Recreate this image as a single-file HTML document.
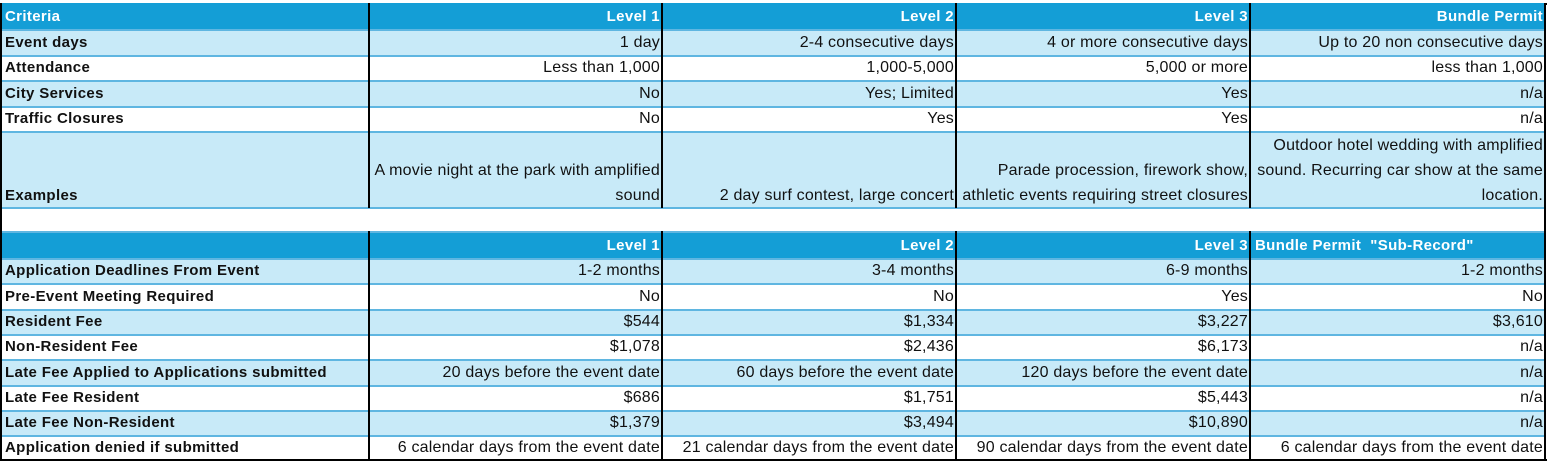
<!DOCTYPE html>
<html><head><meta charset="utf-8"><style>
html,body{margin:0;padding:0;background:#fff;width:1547px;height:462px;overflow:hidden}
body{position:relative;font-family:"Liberation Sans",Arial,sans-serif;font-size:16px;letter-spacing:0.2px;color:#111}
.r{position:absolute;left:2px;width:1543px;border-top:2px solid #5fb6e1;box-sizing:border-box}
.b{background:#c8eaf8}.w{background:#fff}.h{background:#149ed6;color:#fff;font-weight:bold}
.h .c{font-size:15px;letter-spacing:0.35px}
.c{position:absolute;bottom:0px;line-height:25px;white-space:nowrap}
.c0{left:3px;font-weight:bold;font-size:15px;letter-spacing:0.35px}
.h .c0{color:#fff}
.c1{right:885px;text-align:right}.c2{right:591px;text-align:right}.c3{right:297px;text-align:right}.c5{right:2px;text-align:right}
.v{position:absolute;width:2px;background:#000}
</style></head><body>
<div style="position:absolute;left:0;top:3px;width:1547px;height:2px;background:#000"></div>

<div class="r h" style="top:3px;height:26px;border-top:none"><div class="c c0">Criteria</div><div class="c c1">Level 1</div><div class="c c2">Level 2</div><div class="c c3">Level 3</div><div class="c c5">Bundle Permit</div></div>
<div class="r b" style="top:29px;height:26px"><div class="c c0">Event days</div><div class="c c1">1 day</div><div class="c c2">2-4 consecutive days</div><div class="c c3">4 or more consecutive days</div><div class="c c5">Up to 20 non consecutive days</div></div>
<div class="r w" style="top:55px;height:25px"><div class="c c0">Attendance</div><div class="c c1">Less than 1,000</div><div class="c c2">1,000-5,000</div><div class="c c3">5,000 or more</div><div class="c c5">less than 1,000</div></div>
<div class="r b" style="top:80px;height:26px"><div class="c c0">City Services</div><div class="c c1">No</div><div class="c c2">Yes; Limited</div><div class="c c3">Yes</div><div class="c c5">n/a</div></div>
<div class="r w" style="top:106px;height:25px"><div class="c c0">Traffic Closures</div><div class="c c1">No</div><div class="c c2">Yes</div><div class="c c3">Yes</div><div class="c c5">n/a</div></div>
<div class="r b" style="top:131px;height:77px"><div class="c c0">Examples</div><div class="c c1">A movie night at the park with amplified<br>sound</div><div class="c c2">2 day surf contest, large concert</div><div class="c c3">Parade procession, firework show,<br>athletic events requiring street closures</div><div class="c c5">Outdoor hotel wedding with amplified<br>sound. Recurring car show at the same<br>location.</div></div>
<div class="r w" style="top:207px;height:24px"></div>
<div class="r h" style="top:231px;height:27px"><div class="c c1">Level 1</div><div class="c c2">Level 2</div><div class="c c3">Level 3</div><div class="c" style="left:1253px">Bundle Permit &nbsp;"Sub-Record"</div></div>
<div class="r b" style="top:258px;height:25px"><div class="c c0">Application Deadlines From Event</div><div class="c c1">1-2 months</div><div class="c c2">3-4 months</div><div class="c c3">6-9 months</div><div class="c c5">1-2 months</div></div>
<div class="r w" style="top:283px;height:26px"><div class="c c0">Pre-Event Meeting Required</div><div class="c c1">No</div><div class="c c2">No</div><div class="c c3">Yes</div><div class="c c5">No</div></div>
<div class="r b" style="top:309px;height:25px"><div class="c c0">Resident Fee</div><div class="c c1">$544</div><div class="c c2">$1,334</div><div class="c c3">$3,227</div><div class="c c5">$3,610</div></div>
<div class="r w" style="top:334px;height:25px"><div class="c c0">Non-Resident Fee</div><div class="c c1">$1,078</div><div class="c c2">$2,436</div><div class="c c3">$6,173</div><div class="c c5">n/a</div></div>
<div class="r b" style="top:359px;height:26px"><div class="c c0">Late Fee Applied to Applications submitted</div><div class="c c1">20 days before the event date</div><div class="c c2">60 days before the event date</div><div class="c c3">120 days before the event date</div><div class="c c5">n/a</div></div>
<div class="r w" style="top:385px;height:25px"><div class="c c0">Late Fee Resident</div><div class="c c1">$686</div><div class="c c2">$1,751</div><div class="c c3">$5,443</div><div class="c c5">n/a</div></div>
<div class="r b" style="top:410px;height:25px"><div class="c c0">Late Fee Non-Resident</div><div class="c c1">$1,379</div><div class="c c2">$3,494</div><div class="c c3">$10,890</div><div class="c c5">n/a</div></div>
<div class="r w" style="top:435px;height:25px"><div class="c c0">Application denied if submitted</div><div class="c c1">6 calendar days from the event date</div><div class="c c2">21 calendar days from the event date</div><div class="c c3">90 calendar days from the event date</div><div class="c c5">6 calendar days from the event date</div></div>

<div style="position:absolute;left:0;top:459px;width:1547px;height:2px;background:#000"></div>
<div class="v" style="left:0;top:3px;height:458px"></div>
<div class="v" style="left:1544px;top:3px;height:458px"></div>
<div class="v" style="left:368px;top:3px;height:205px"></div>
<div class="v" style="left:661px;top:3px;height:205px"></div>
<div class="v" style="left:955px;top:3px;height:205px"></div>
<div class="v" style="left:1249px;top:3px;height:205px"></div>
<div class="v" style="left:368px;top:231px;height:230px"></div>
<div class="v" style="left:661px;top:231px;height:230px"></div>
<div class="v" style="left:955px;top:231px;height:230px"></div>
<div class="v" style="left:1249px;top:231px;height:230px"></div>
</body></html>
